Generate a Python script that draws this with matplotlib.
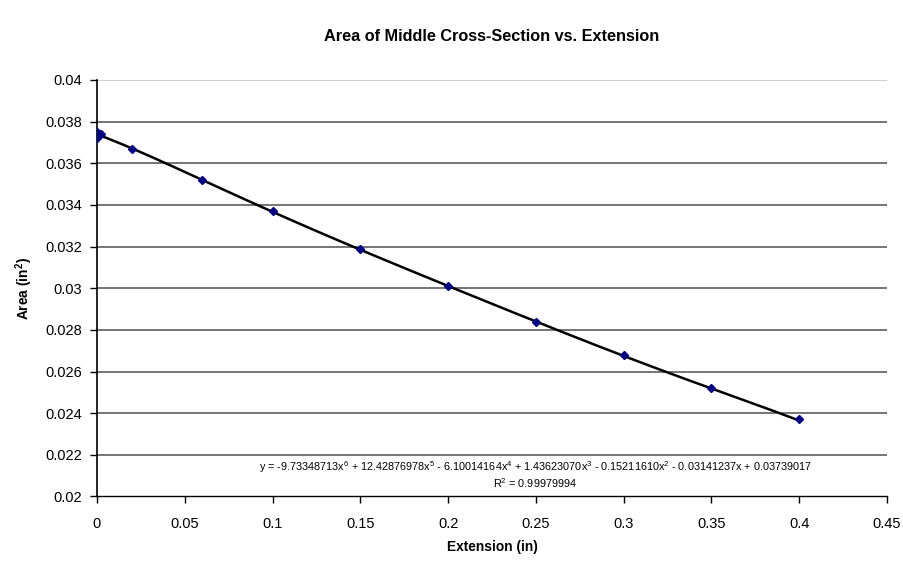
import numpy as np
import matplotlib.pyplot as plt

plt.rcParams['font.family'] = ['Liberation Sans', 'DejaVu Sans']
plt.rcParams['mathtext.fontset'] = 'custom'
plt.rcParams['mathtext.rm'] = 'Liberation Sans'
plt.rcParams['mathtext.it'] = 'Liberation Sans:italic'
plt.rcParams['mathtext.bf'] = 'Liberation Sans:bold'

# measured extension (in) and middle cross-section area (in^2)
extension = [0, 0, 0.001, 0.002, 0.02, 0.06, 0.1, 0.15, 0.2, 0.25, 0.3, 0.35, 0.4]
area = [0.0372, 0.0375, 0.0374, 0.0374, 0.0367, 0.0352, 0.0337, 0.0319,
        0.0301, 0.0284, 0.0268, 0.0252, 0.0237]

# 6th order polynomial trendline, highest power first
coeffs = [-9.73348713, 12.42876978, -6.10014164, 1.43623070,
          -0.15211610, -0.03141237, 0.03739017]
r_squared = 0.99979994

fig = plt.figure(figsize=(9.04, 5.68), dpi=100)
ax = fig.add_axes([0.1073, 0.1259, 0.8739, 0.7333])

xs = np.linspace(0, 0.4, 200)
ax.plot(xs, np.polyval(coeffs, xs), color='black', lw=1.8, zorder=3)
ax.plot(extension, area, linestyle='none', marker='D', markersize=4.5,
        color='#000080', zorder=4)

ax.set_xlim(0, 0.45)
ax.set_ylim(0.02, 0.04)
ax.set_xticks(np.arange(0, 0.451, 0.05))
ax.set_xticklabels(['0', '0.05', '0.1', '0.15', '0.2', '0.25', '0.3', '0.35', '0.4', '0.45'])
ax.set_yticks(np.arange(0.02, 0.0401, 0.002))
ax.set_yticklabels(['0.02', '0.022', '0.024', '0.026', '0.028', '0.03',
                    '0.032', '0.034', '0.036', '0.038', '0.04'])

# horizontal gridlines, lighter along the top edge
for yv in np.arange(0.022, 0.0381, 0.002):
    ax.axhline(yv, color='#505050', lw=1.1, zorder=1)
ax.axhline(0.04, color='#c8c8c8', lw=1.3, zorder=1)

for side in ['top', 'right']:
    ax.spines[side].set_visible(False)
ax.spines['left'].set_linewidth(1.2)
ax.spines['bottom'].set_linewidth(1.0)
ax.tick_params(direction='out', length=5, width=1, labelsize=10.5)
ax.tick_params(axis='x', pad=10)
ax.tick_params(axis='y', pad=6)

ax.set_title('Area of Middle Cross-Section vs. Extension', fontsize=11.7,
             fontweight='bold', pad=28)
ax.set_xlabel('Extension (in)', fontsize=9.9, fontweight='bold', labelpad=6)
ax.set_ylabel('Area (in$\\mathbf{^2}$)', fontsize=9.9, fontweight='bold', labelpad=7)

terms = []
powers = [6, 5, 4, 3, 2, 1, 0]
for i, (c, p) in enumerate(zip(coeffs, powers)):
    num = f'{abs(c):.8f}'
    if p > 1:
        body = f'{num}x$^{{{p}}}$'
    elif p == 1:
        body = f'{num}x'
    else:
        body = num
    if i == 0:
        terms.append(('-' if c < 0 else '') + body)
    else:
        terms.append((' - ' if c < 0 else ' + ') + body)
eq = 'y = ' + ''.join(terms)
ax.text(0.555, 0.071, eq, transform=ax.transAxes, ha='center', va='center', fontsize=7.8)
ax.text(0.555, 0.033, f'R$^2$ = {r_squared:.8f}', transform=ax.transAxes,
        ha='center', va='center', fontsize=7.8)

fig.savefig('out.png', dpi=100)
